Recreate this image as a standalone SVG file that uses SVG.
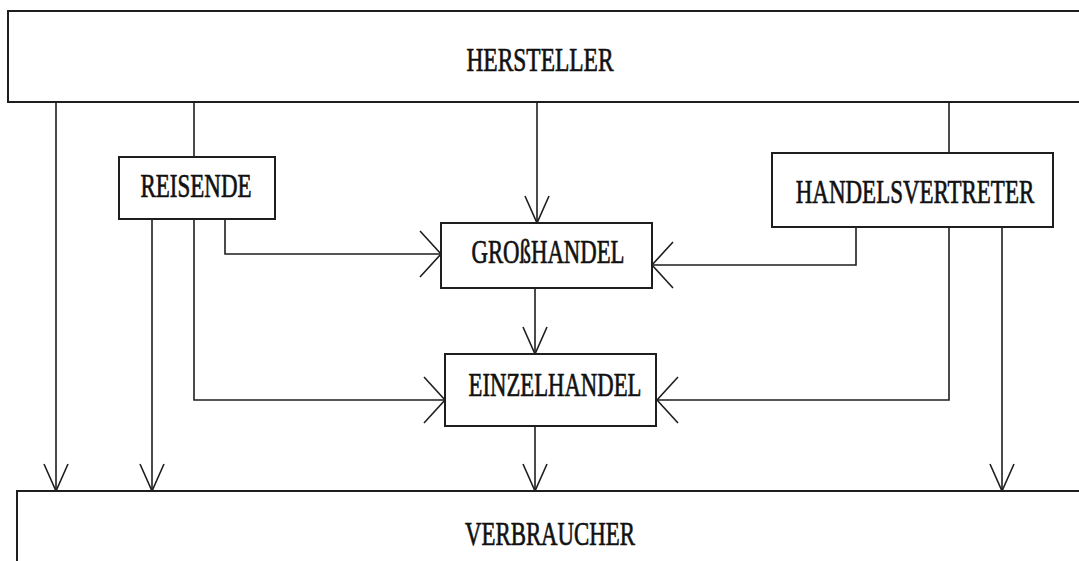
<svg xmlns="http://www.w3.org/2000/svg" width="1079" height="561" viewBox="0 0 1079 561">
  <style>
    .box { fill: #ffffff; stroke: #1e1e1e; stroke-width: 2; }
    .lbl { font-family: "Liberation Serif", "DejaVu Serif", serif; font-size: 34px; fill: #111111; stroke: #111111; stroke-width: 0.7; text-anchor: middle; }
    .con { fill: none; stroke: #1e1e1e; stroke-width: 1.6; }
    .v { marker-end: url(#av); }
    .h { marker-end: url(#ah); }
  </style>
  <defs>
    <marker id="av" markerUnits="userSpaceOnUse" viewBox="-30 -16 32 32" refX="0" refY="0" markerWidth="32" markerHeight="32" orient="auto" overflow="visible">
      <path d="M -27 -12 L 0 0 L -27 12" fill="none" stroke="#1e1e1e" stroke-width="1.6"/>
    </marker>
    <marker id="ah" markerUnits="userSpaceOnUse" viewBox="-30 -30 32 60" refX="0" refY="0" markerWidth="32" markerHeight="60" orient="auto" overflow="visible">
      <path d="M -21 -23 L 0 0 L -21 23" fill="none" stroke="#1e1e1e" stroke-width="1.6"/>
    </marker>
  </defs>
  <rect x="0" y="0" width="1079" height="561" fill="#ffffff"/>

  <g id="connectors">
    <path class="con v" d="M56 102 V491"/>
    <path class="con" d="M194 102 V157"/>
    <path class="con v" d="M537 102 V223"/>
    <path class="con" d="M949 102 V153"/>
    <path class="con v" d="M152 219 V491"/>
    <path class="con h" d="M194 219 V400 H445"/>
    <path class="con h" d="M225 219 V254 H441"/>
    <path class="con h" d="M856 227 V265 H652"/>
    <path class="con h" d="M949 227 V400 H657"/>
    <path class="con v" d="M1002 227 V491"/>
    <path class="con v" d="M535 288 V354"/>
    <path class="con v" d="M535 426 V491"/>
  </g>

  <g id="hersteller">
    <rect class="box" x="8" y="11" width="1100" height="91"/>
    <text class="lbl" transform="translate(540 71) scale(0.69 1)">HERSTELLER</text>
  </g>
  <g id="reisende">
    <rect class="box" x="119" y="157" width="156" height="62"/>
    <text class="lbl" transform="translate(196 197) scale(0.676 1)">REISENDE</text>
  </g>
  <g id="handelsvertreter">
    <rect class="box" x="772" y="153" width="281" height="74"/>
    <text class="lbl" transform="translate(915 203) scale(0.676 1)">HANDELSVERTRETER</text>
  </g>
  <g id="grosshandel">
    <rect class="box" x="441" y="223" width="211" height="65"/>
    <text class="lbl" transform="translate(548 263) scale(0.67 1)">GROßHANDEL</text>
  </g>
  <g id="einzelhandel">
    <rect class="box" x="445" y="354" width="211" height="72"/>
    <text class="lbl" transform="translate(555 396) scale(0.668 1)">EINZELHANDEL</text>
  </g>
  <g id="verbraucher">
    <rect class="box" x="17" y="491" width="1100" height="100"/>
    <text class="lbl" transform="translate(550 545) scale(0.672 1)">VERBRAUCHER</text>
  </g>
</svg>
